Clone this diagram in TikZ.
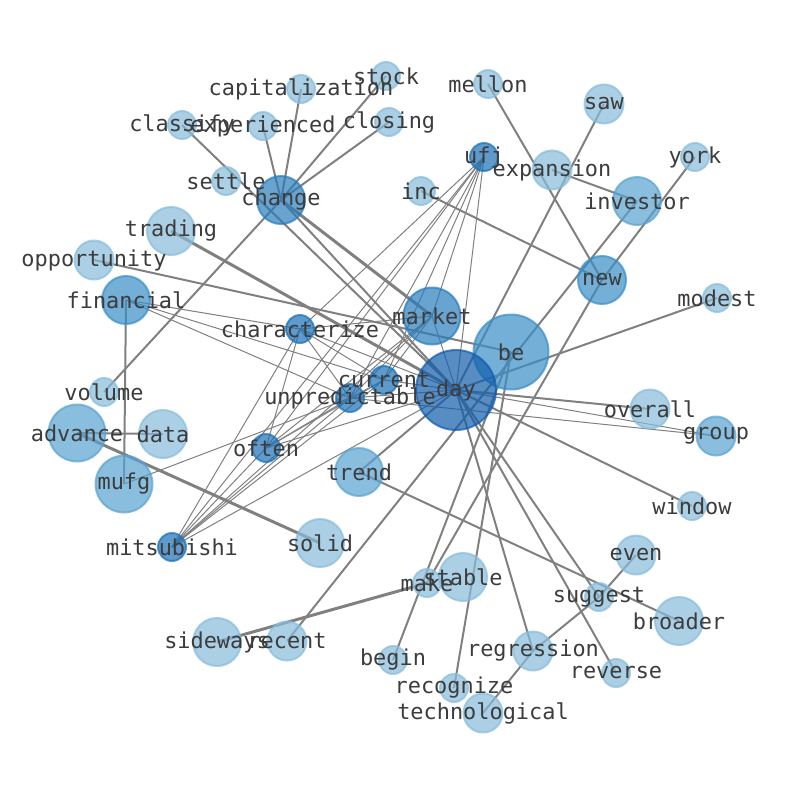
\documentclass[tikz,border=0pt]{standalone}
\usepackage{fontspec}
\setmainfont{DejaVu Sans Mono}
\definecolor{cL}{RGB}{135,188,219}
\definecolor{cM}{RGB}{89,162,208}
\definecolor{cMD}{RGB}{56,141,198}
\definecolor{cD}{RGB}{41,124,188}
\definecolor{cDD}{RGB}{26,112,182}
\definecolor{cX}{RGB}{17,92,171}
\definecolor{edgec}{RGB}{128,128,128}
\definecolor{labc}{RGB}{60,60,60}
\tikzset{
  ethin/.style={draw=edgec,line width=1pt},
  emid/.style={draw=edgec,line width=2pt},
  ethick/.style={draw=edgec,line width=3pt},
  bubble/.style={circle,inner sep=0pt,line width=2pt,fill opacity=.7,draw opacity=.7},
  lab/.style={inner sep=0pt,text=labc,font=\fontsize{21.9}{22}\selectfont}
}
\begin{document}
\begin{tikzpicture}[x=1pt,y=-1pt]
\useasboundingbox (0,0) rectangle (794,790);
\foreach \nm/\x/\y in {
capitalization/301/89, stock/386/76, mellon/488/84, saw/604/104,
classify/182/125, experienced/263/126, closing/389/122, ufj/484/157,
expansion/552/170, york/695/157, settle/226/181, inc/421/191,
change/281/200, investor/637/201, trading/171/231, opportunity/94/260,
new/602/280, modest/717/298, financial/126/300, characterize/300/329,
market/432/316, be/511/352, current/384/380, unpredictable/350/398,
day/456/390, volume/104/392, overall/650/409, group/716/436,
advance/77/433, data/163/434, often/266/448, trend/359/472,
mufg/124/484, window/692/506, solid/320/543, mitsubishi/172/547,
even/636/555, make/427/583, stable/463/577, suggest/599/597,
broader/679/621, sideways/217/642, recent/287/641, begin/393/660,
regression/533/651, reverse/616/673, recognize/454/688, technological/483/713}
  \coordinate (\nm) at (\x,\y);
% edges
\foreach \a/\b in {
mitsubishi/ufj, mitsubishi/characterize, mitsubishi/often, mitsubishi/unpredictable,
mitsubishi/current, mitsubishi/market, mitsubishi/day,
ufj/characterize, ufj/often, ufj/unpredictable, ufj/current, ufj/market, ufj/day,
characterize/often, characterize/unpredictable, characterize/current, characterize/market, characterize/day,
often/unpredictable, often/current, often/market, often/day,
unpredictable/current, unpredictable/market, unpredictable/day, unpredictable/group,
current/market, current/day, market/day, day/group,
financial/characterize, financial/current, financial/unpredictable, mufg/unpredictable}
  \draw[ethin] (\a) -- (\b);
\foreach \a/\b in {
change/capitalization, change/stock, change/closing, change/experienced,
change/volume, change/day, classify/day, opportunity/be, financial/mufg,
advance/data, mellon/new, saw/day, expansion/investor, inc/new, york/new,
new/make, investor/recent, day/modest, day/overall, day/window, day/trend,
trend/broader, begin/be, recognize/be, day/regression, day/reverse,
day/suggest, even/suggest, suggest/regression, regression/technological}
  \draw[emid] (\a) -- (\b);
\foreach \a/\b in {change/market, trading/day, advance/solid, sideways/make}
  \draw[ethick] (\a) -- (\b);
% bubbles
\foreach \nm/\r/\c in {
capitalization/14/cL, stock/14/cL, mellon/14/cL, saw/19.5/cL,
classify/14/cL, experienced/14/cL, closing/14/cL, ufj/14/cDD,
expansion/19.5/cL, york/14/cL, settle/14/cL, inc/14/cL,
change/24/cD, investor/24/cM, trading/24/cL, opportunity/19.5/cL,
new/24/cMD, modest/14/cL, financial/24/cMD, characterize/14/cDD,
market/28.5/cD, be/37.5/cMD, current/14/cDD, unpredictable/14/cDD,
day/40/cX, volume/14/cL, overall/19.5/cL, group/19.5/cM,
advance/28.5/cM, data/24/cL, often/14/cDD, trend/24/cM,
mufg/28.5/cM, window/14/cL, solid/24/cL, mitsubishi/14/cDD,
even/19.5/cL, make/14/cL, stable/24/cL, suggest/14/cL,
broader/24/cL, sideways/24/cL, recent/19.5/cL, begin/14/cL,
regression/19.5/cL, reverse/14/cL, recognize/14/cL, technological/19.5/cL}
  \node[bubble,minimum size=2*\r pt,fill=\c,draw=\c] (\nm-c) at (\nm) {};
% labels
\foreach \nm in {
capitalization, stock, mellon, saw, classify, experienced, closing, ufj,
expansion, york, settle, inc, change, investor, trading, opportunity,
new, modest, financial, characterize, market, be, current, unpredictable,
day, volume, overall, group, advance, data, often, trend,
mufg, window, solid, mitsubishi, even, make, stable, suggest,
broader, sideways, recent, begin, regression, reverse, recognize, technological}
  \node[lab] (\nm-l) at (\nm) {\nm};
\end{tikzpicture}
\end{document}
